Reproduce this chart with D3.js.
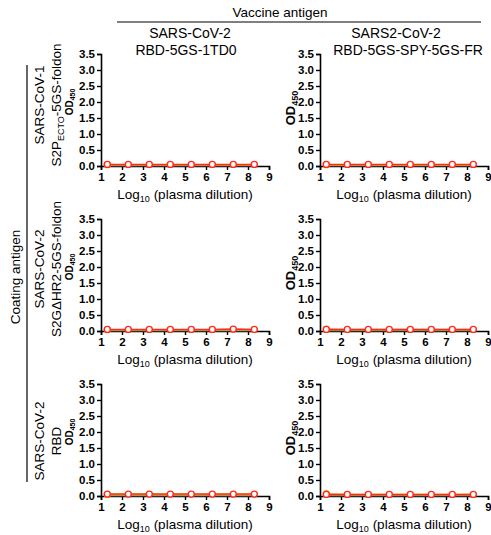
<!DOCTYPE html>
<html>
<head>
<meta charset="utf-8">
<script src="https://cdn.jsdelivr.net/npm/d3@7"></script>
<style>
  body { margin: 0; background: #fff; }
  text { font-family: "Liberation Sans", Arial, sans-serif; }
</style>
</head>
<body>
<svg id="chart" width="491" height="535"></svg>
<script>
// dilution points (log10)
var dilutions = [1.3, 2.3, 3.3, 4.3, 5.3, 6.3, 7.3, 8.3];
var xTicks = [1, 2, 3, 4, 5, 6, 7, 8, 9];
var yTicks = [0, 0.5, 1, 1.5, 2, 2.5, 3, 3.5];

var vaccineLabels = [['SARS-CoV-2', 'RBD-5GS-1TD0'], ['SARS2-CoV-2', 'RBD-5GS-SPY-5GS-FR']];
var coatingLabels = [['SARS-CoV-1', 'S2P_ECTO-5GS-foldon'], ['SARS-CoV-2', 'S2GΔHR2-5GS-foldon'], ['SARS-CoV-2', 'RBD']];

var seriesColors = ['#555555', '#9aa84a', '#f5a623', '#ff2a1a'];

// OD450 readings per panel, rows = coating antigen, cols = vaccine antigen
var row1col1 = [[0.01,0.01,0.01,0.01,0.01,0.01,0.01,0.01],[0.03,0.03,0.03,0.03,0.03,0.03,0.03,0.03],[0.04,0.04,0.04,0.04,0.04,0.04,0.04,0.04],[0.05,0.05,0.05,0.05,0.05,0.05,0.05,0.05]];
var row1col2 = [[0.01,0.01,0.01,0.01,0.01,0.01,0.01,0.01],[0.02,0.02,0.02,0.02,0.02,0.02,0.02,0.02],[0.04,0.04,0.04,0.04,0.04,0.04,0.04,0.04],[0.05,0.05,0.05,0.05,0.05,0.05,0.05,0.05]];
var row2col1 = [[0.01,0.01,0.01,0.01,0.01,0.01,0.01,0.01],[0.03,0.03,0.03,0.03,0.03,0.03,0.03,0.03],[0.04,0.04,0.04,0.04,0.04,0.04,0.04,0.04],[0.05,0.05,0.05,0.05,0.05,0.05,0.06,0.05]];
var row2col2 = [[0.01,0.01,0.01,0.01,0.01,0.01,0.01,0.01],[0.03,0.03,0.03,0.03,0.03,0.03,0.03,0.03],[0.06,0.05,0.05,0.05,0.05,0.05,0.05,0.05],[0.05,0.05,0.05,0.05,0.05,0.05,0.05,0.05]];
var row3col1 = [[0.01,0.01,0.01,0.01,0.01,0.01,0.01,0.01],[0.03,0.03,0.03,0.03,0.03,0.03,0.03,0.03],[0.05,0.05,0.05,0.05,0.05,0.05,0.05,0.05],[0.06,0.06,0.06,0.06,0.06,0.06,0.06,0.06]];
var row3col2 = [[0.01,0.01,0.01,0.01,0.01,0.01,0.01,0.01],[0.03,0.03,0.03,0.03,0.03,0.03,0.03,0.03],[0.07,0.05,0.05,0.05,0.05,0.05,0.05,0.05],[0.05,0.05,0.05,0.05,0.05,0.05,0.05,0.05]];
var panelData = [[row1col1, row1col2], [row2col1, row2col2], [row3col1, row3col2]];

var svg = d3.select('#chart');

var colX = [101, 320];
var rowY = [54, 219, 384];
var plotW = 168, plotH = 112;

var xScale = d3.scaleLinear().domain([1, 9]).range([0, plotW]);
var yScale = d3.scaleLinear().domain([0, 3.5]).range([plotH, 0]);

// top title
svg.append('text')
    .attr('x', 280).attr('y', 17)
    .attr('text-anchor', 'middle')
    .style('font-size', '13.5px')
    .text('Vaccine antigen');
svg.append('line')
    .attr('x1', 117).attr('x2', 481).attr('y1', 22).attr('y2', 22)
    .attr('stroke', '#000').attr('stroke-width', 1.2);

var headX = [[190, 186], [396, 408]];
vaccineLabels.forEach(function(lines, c) {
    lines.forEach(function(t, k) {
        svg.append('text')
            .attr('x', headX[c][k]).attr('y', 38 + k * 17)
            .attr('text-anchor', 'middle')
            .style('font-size', '14px')
            .text(t);
    });
});

// coating antigen label on left
svg.append('text')
    .attr('transform', 'translate(20,277)rotate(-90)')
    .attr('text-anchor', 'middle')
    .style('font-size', '13.5px')
    .text('Coating antigen');
svg.append('line')
    .attr('x1', 27).attr('x2', 27).attr('y1', 65).attr('y2', 482)
    .attr('stroke', '#000').attr('stroke-width', 1.2);

var rowLabelY = [105, 269, 441];
coatingLabels.forEach(function(lines, r) {
    lines.forEach(function(t, k) {
        var tx = svg.append('text')
            .attr('transform', 'translate(' + [44 + k * 17, rowLabelY[r]] + ')rotate(-90)')
            .attr('text-anchor', 'middle')
            .style('font-size', '13.5px');
        if (t.indexOf('_ECTO') > -1) {
            tx.append('tspan').text('S2P');
            tx.append('tspan').attr('dy', 3).style('font-size', '9px').text('ECTO');
            tx.append('tspan').attr('dy', -3).text('-5GS-foldon');
        } else {
            tx.text(t);
        }
    });
});

var line = d3.line()
    .x(function(d, i) { return xScale(dilutions[i]); })
    .y(function(d) { return yScale(d); });

panelData.forEach(function(row, r) {
    row.forEach(function(series, c) {
        var g = svg.append('g')
            .attr('transform', 'translate(' + [colX[c], rowY[r]] + ')');

        // y axis
        var yAx = g.append('g')
            .call(d3.axisLeft(yScale).tickValues(yTicks).tickFormat(d3.format('.1f')).tickSize(4).tickPadding(2));
        // x axis
        var xAx = g.append('g')
            .attr('transform', 'translate(0,' + plotH + ')')
            .call(d3.axisBottom(xScale).tickValues(xTicks).tickFormat(d3.format('d')).tickSize(4).tickPadding(3));
        [yAx, xAx].forEach(function(ax) {
            ax.selectAll('path').attr('stroke', '#000').attr('stroke-width', 1.6);
            ax.selectAll('line').attr('stroke', '#000').attr('stroke-width', 1.4);
            ax.selectAll('text')
                .attr('fill', '#000')
                .style('font-family', '"Liberation Sans", Arial, sans-serif')
                .style('font-weight', 'bold')
                .style('font-size', '11.5px');
        });

        // series lines
        series.forEach(function(vals, s) {
            g.append('path')
                .datum(vals)
                .attr('fill', 'none')
                .attr('stroke', seriesColors[s])
                .attr('stroke-width', 1.5)
                .attr('d', line);
        });
        // orange first point marker
        g.append('circle')
            .attr('cx', xScale(dilutions[0]))
            .attr('cy', yScale(series[2][0]))
            .attr('r', 3)
            .attr('fill', 'none')
            .attr('stroke', seriesColors[2])
            .attr('stroke-width', 1.3);
        // red open circles
        g.selectAll('.dot')
            .data(series[3])
            .enter().append('circle')
            .attr('class', 'dot')
            .attr('cx', function(d, i) { return xScale(dilutions[i]); })
            .attr('cy', function(d) { return yScale(d); })
            .attr('r', 3)
            .attr('fill', '#fff')
            .attr('stroke', seriesColors[3])
            .attr('stroke-width', 1.4);

        // x title
        var xt = g.append('text')
            .attr('x', plotW / 2).attr('y', plotH + 33)
            .attr('text-anchor', 'middle')
            .style('font-size', '13.5px');
        xt.append('tspan').text('Log');
        xt.append('tspan').attr('dy', 3).style('font-size', '9px').text('10');
        xt.append('tspan').attr('dy', -3).text(' (plasma dilution)');

        // y title
        var big = c === 1;
        var yt = g.append('text')
            .attr('transform', 'translate(' + [big ? -25 : -28, plotH / 2 + (big ? -2 : -8)] + ')rotate(-90)')
            .attr('text-anchor', 'middle')
            .style('font-weight', 'bold')
            .style('font-size', big ? '13px' : '10px');
        yt.append('tspan').text('OD');
        yt.append('tspan').attr('dy', big ? 3 : 2).style('font-size', big ? '9px' : '7px').text('450');
    });
});
</script>
</body>
</html>
